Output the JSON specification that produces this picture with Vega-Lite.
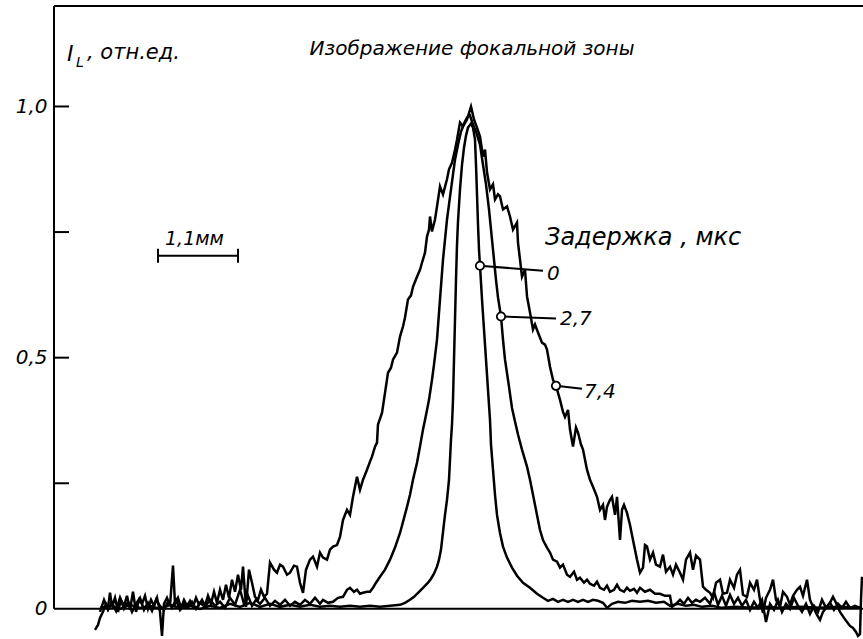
{
"$schema": "https://vega.github.io/schema/vega-lite/v6.json",
"width": 809, "height": 633,
"autosize": {"type": "none"},
"padding": {"left": 54, "top": 6, "right": 0, "bottom": 0},
"background": "white",
"config": {"view": {"stroke": null}, "font": "DejaVu Sans"},
"layer": [
{
"data": {"values": [
{"c":"7,4","x":41,"y":-0.042},{"c":"7,4","x":44,"y":-0.032},{"c":"7,4","x":46,"y":-0.018},{"c":"7,4","x":49,"y":-0.006},{"c":"7,4","x":52,"y":0.010},{"c":"7,4","x":54,"y":0.002},{"c":"7,4","x":56,"y":0.032},{"c":"7,4","x":58,"y":0.004},{"c":"7,4","x":61,"y":0.022},{"c":"7,4","x":64,"y":-0.006},{"c":"7,4","x":67,"y":0.018},{"c":"7,4","x":70,"y":0.006},{"c":"7,4","x":73,"y":0.026},{"c":"7,4","x":76,"y":-0.002},{"c":"7,4","x":79,"y":0.034},{"c":"7,4","x":82,"y":-0.006},{"c":"7,4","x":85,"y":0.018},{"c":"7,4","x":88,"y":0.010},{"c":"7,4","x":91,"y":0.026},{"c":"7,4","x":94,"y":0.000},{"c":"7,4","x":97,"y":0.018},{"c":"7,4","x":100,"y":0.006},{"c":"7,4","x":103,"y":0.022},{"c":"7,4","x":106,"y":-0.006},{"c":"7,4","x":108,"y":-0.054},{"c":"7,4","x":110,"y":0.010},{"c":"7,4","x":113,"y":0.022},{"c":"7,4","x":116,"y":0.006},{"c":"7,4","x":119,"y":0.086},{"c":"7,4","x":121,"y":0.010},{"c":"7,4","x":124,"y":0.022},{"c":"7,4","x":127,"y":0.002},{"c":"7,4","x":130,"y":0.018},{"c":"7,4","x":133,"y":0.006},{"c":"7,4","x":136,"y":0.016},{"c":"7,4","x":139,"y":0.004},{"c":"7,4","x":142,"y":0.022},{"c":"7,4","x":145,"y":0.008},{"c":"7,4","x":148,"y":0.018},{"c":"7,4","x":151,"y":0.006},{"c":"7,4","x":154,"y":0.026},{"c":"7,4","x":157,"y":0.010},{"c":"7,4","x":160,"y":0.034},{"c":"7,4","x":163,"y":0.012},{"c":"7,4","x":166,"y":0.038},{"c":"7,4","x":169,"y":0.018},{"c":"7,4","x":172,"y":0.048},{"c":"7,4","x":175,"y":0.022},{"c":"7,4","x":178,"y":0.058},{"c":"7,4","x":181,"y":0.034},{"c":"7,4","x":184,"y":0.068},{"c":"7,4","x":187,"y":0.038},{"c":"7,4","x":189,"y":0.084},{"c":"7,4","x":192,"y":0.004},{"c":"7,4","x":195,"y":0.078},{"c":"7,4","x":198,"y":0.052},{"c":"7,4","x":201,"y":0.024},{"c":"7,4","x":204,"y":0.018},{"c":"7,4","x":207,"y":0.038},{"c":"7,4","x":210,"y":0.024},{"c":"7,4","x":213,"y":0.030},{"c":"7,4","x":216,"y":0.092},{"c":"7,4","x":220,"y":0.078},{"c":"7,4","x":223,"y":0.072},{"c":"7,4","x":226,"y":0.088},{"c":"7,4","x":229,"y":0.084},{"c":"7,4","x":233,"y":0.068},{"c":"7,4","x":236,"y":0.072},{"c":"7,4","x":240,"y":0.086},{"c":"7,4","x":243,"y":0.084},{"c":"7,4","x":246,"y":0.052},{"c":"7,4","x":249,"y":0.032},{"c":"7,4","x":252,"y":0.078},{"c":"7,4","x":256,"y":0.098},{"c":"7,4","x":259,"y":0.104},{"c":"7,4","x":263,"y":0.084},{"c":"7,4","x":266,"y":0.112},{"c":"7,4","x":269,"y":0.102},{"c":"7,4","x":273,"y":0.098},{"c":"7,4","x":276,"y":0.118},{"c":"7,4","x":279,"y":0.124},{"c":"7,4","x":283,"y":0.127},{"c":"7,4","x":286,"y":0.143},{"c":"7,4","x":289,"y":0.177},{"c":"7,4","x":293,"y":0.197},{"c":"7,4","x":296,"y":0.187},{"c":"7,4","x":299,"y":0.223},{"c":"7,4","x":303,"y":0.263},{"c":"7,4","x":306,"y":0.237},{"c":"7,4","x":309,"y":0.257},{"c":"7,4","x":313,"y":0.277},{"c":"7,4","x":316,"y":0.293},{"c":"7,4","x":318,"y":0.303},{"c":"7,4","x":321,"y":0.323},{"c":"7,4","x":323,"y":0.331},{"c":"7,4","x":324,"y":0.367},{"c":"7,4","x":328,"y":0.390},{"c":"7,4","x":331,"y":0.430},{"c":"7,4","x":334,"y":0.470},{"c":"7,4","x":337,"y":0.480},{"c":"7,4","x":339,"y":0.496},{"c":"7,4","x":343,"y":0.510},{"c":"7,4","x":346,"y":0.542},{"c":"7,4","x":349,"y":0.562},{"c":"7,4","x":351,"y":0.580},{"c":"7,4","x":354,"y":0.616},{"c":"7,4","x":357,"y":0.624},{"c":"7,4","x":359,"y":0.641},{"c":"7,4","x":363,"y":0.661},{"c":"7,4","x":366,"y":0.675},{"c":"7,4","x":368,"y":0.689},{"c":"7,4","x":371,"y":0.709},{"c":"7,4","x":373,"y":0.741},{"c":"7,4","x":375,"y":0.755},{"c":"7,4","x":376,"y":0.781},{"c":"7,4","x":378,"y":0.751},{"c":"7,4","x":381,"y":0.775},{"c":"7,4","x":383,"y":0.801},{"c":"7,4","x":386,"y":0.841},{"c":"7,4","x":389,"y":0.825},{"c":"7,4","x":393,"y":0.855},{"c":"7,4","x":395,"y":0.875},{"c":"7,4","x":398,"y":0.888},{"c":"7,4","x":401,"y":0.914},{"c":"7,4","x":403,"y":0.934},{"c":"7,4","x":406,"y":0.968},{"c":"7,4","x":409,"y":0.960},{"c":"7,4","x":413,"y":0.974},{"c":"7,4","x":417,"y":1.000},{"c":"7,4","x":420,"y":0.974},{"c":"7,4","x":423,"y":0.958},{"c":"7,4","x":426,"y":0.940},{"c":"7,4","x":429,"y":0.900},{"c":"7,4","x":431,"y":0.914},{"c":"7,4","x":433,"y":0.869},{"c":"7,4","x":436,"y":0.835},{"c":"7,4","x":439,"y":0.845},{"c":"7,4","x":441,"y":0.815},{"c":"7,4","x":444,"y":0.825},{"c":"7,4","x":446,"y":0.821},{"c":"7,4","x":449,"y":0.795},{"c":"7,4","x":453,"y":0.801},{"c":"7,4","x":456,"y":0.781},{"c":"7,4","x":459,"y":0.755},{"c":"7,4","x":463,"y":0.769},{"c":"7,4","x":464,"y":0.729},{"c":"7,4","x":466,"y":0.695},{"c":"7,4","x":468,"y":0.661},{"c":"7,4","x":471,"y":0.675},{"c":"7,4","x":473,"y":0.622},{"c":"7,4","x":476,"y":0.590},{"c":"7,4","x":479,"y":0.556},{"c":"7,4","x":481,"y":0.566},{"c":"7,4","x":484,"y":0.550},{"c":"7,4","x":488,"y":0.530},{"c":"7,4","x":491,"y":0.526},{"c":"7,4","x":493,"y":0.516},{"c":"7,4","x":496,"y":0.482},{"c":"7,4","x":499,"y":0.456},{"c":"7,4","x":502,"y":0.444},{"c":"7,4","x":504,"y":0.430},{"c":"7,4","x":506,"y":0.416},{"c":"7,4","x":509,"y":0.392},{"c":"7,4","x":511,"y":0.382},{"c":"7,4","x":514,"y":0.396},{"c":"7,4","x":516,"y":0.357},{"c":"7,4","x":519,"y":0.323},{"c":"7,4","x":522,"y":0.361},{"c":"7,4","x":524,"y":0.351},{"c":"7,4","x":527,"y":0.327},{"c":"7,4","x":529,"y":0.317},{"c":"7,4","x":533,"y":0.277},{"c":"7,4","x":536,"y":0.257},{"c":"7,4","x":539,"y":0.243},{"c":"7,4","x":543,"y":0.223},{"c":"7,4","x":546,"y":0.197},{"c":"7,4","x":549,"y":0.207},{"c":"7,4","x":551,"y":0.177},{"c":"7,4","x":553,"y":0.203},{"c":"7,4","x":556,"y":0.217},{"c":"7,4","x":558,"y":0.223},{"c":"7,4","x":561,"y":0.187},{"c":"7,4","x":563,"y":0.223},{"c":"7,4","x":566,"y":0.137},{"c":"7,4","x":568,"y":0.197},{"c":"7,4","x":570,"y":0.207},{"c":"7,4","x":573,"y":0.191},{"c":"7,4","x":576,"y":0.167},{"c":"7,4","x":579,"y":0.137},{"c":"7,4","x":583,"y":0.098},{"c":"7,4","x":586,"y":0.072},{"c":"7,4","x":589,"y":0.082},{"c":"7,4","x":591,"y":0.127},{"c":"7,4","x":593,"y":0.124},{"c":"7,4","x":596,"y":0.098},{"c":"7,4","x":599,"y":0.112},{"c":"7,4","x":602,"y":0.088},{"c":"7,4","x":606,"y":0.084},{"c":"7,4","x":609,"y":0.108},{"c":"7,4","x":612,"y":0.074},{"c":"7,4","x":616,"y":0.084},{"c":"7,4","x":619,"y":0.068},{"c":"7,4","x":622,"y":0.088},{"c":"7,4","x":626,"y":0.072},{"c":"7,4","x":629,"y":0.058},{"c":"7,4","x":632,"y":0.098},{"c":"7,4","x":636,"y":0.112},{"c":"7,4","x":639,"y":0.078},{"c":"7,4","x":642,"y":0.106},{"c":"7,4","x":646,"y":0.098},{"c":"7,4","x":649,"y":0.044},{"c":"7,4","x":652,"y":0.038},{"c":"7,4","x":656,"y":0.032},{"c":"7,4","x":659,"y":0.022},{"c":"7,4","x":662,"y":0.052},{"c":"7,4","x":666,"y":0.058},{"c":"7,4","x":669,"y":0.030},{"c":"7,4","x":673,"y":0.032},{"c":"7,4","x":676,"y":0.058},{"c":"7,4","x":680,"y":0.042},{"c":"7,4","x":683,"y":0.068},{"c":"7,4","x":686,"y":0.078},{"c":"7,4","x":689,"y":0.028},{"c":"7,4","x":693,"y":0.024},{"c":"7,4","x":696,"y":0.052},{"c":"7,4","x":700,"y":0.038},{"c":"7,4","x":703,"y":0.058},{"c":"7,4","x":706,"y":0.018},{"c":"7,4","x":709,"y":-0.008},{"c":"7,4","x":712,"y":0.022},{"c":"7,4","x":716,"y":0.038},{"c":"7,4","x":719,"y":0.058},{"c":"7,4","x":722,"y":0.018},{"c":"7,4","x":726,"y":0.004},{"c":"7,4","x":729,"y":0.034},{"c":"7,4","x":733,"y":0.024},{"c":"7,4","x":736,"y":0.008},{"c":"7,4","x":739,"y":0.026},{"c":"7,4","x":743,"y":0.038},{"c":"7,4","x":746,"y":0.044},{"c":"7,4","x":749,"y":0.026},{"c":"7,4","x":753,"y":0.058},{"c":"7,4","x":756,"y":0.018},{"c":"7,4","x":759,"y":0.004},{"c":"7,4","x":763,"y":-0.012},{"c":"7,4","x":766,"y":-0.022},{"c":"7,4","x":769,"y":-0.006},{"c":"7,4","x":773,"y":0.004},{"c":"7,4","x":776,"y":0.012},{"c":"7,4","x":779,"y":0.024},{"c":"7,4","x":783,"y":0.008},{"c":"7,4","x":786,"y":-0.006},{"c":"7,4","x":790,"y":-0.018},{"c":"7,4","x":793,"y":-0.026},{"c":"7,4","x":796,"y":-0.034},{"c":"7,4","x":799,"y":-0.038},{"c":"7,4","x":802,"y":-0.046},{"c":"7,4","x":804,"y":-0.054},{"c":"7,4","x":806,"y":-0.050},{"c":"7,4","x":807,"y":0.018},{"c":"7,4","x":808,"y":0.064},
{"c":"2,7","x":46,"y":-0.006},{"c":"2,7","x":50,"y":0.018},{"c":"2,7","x":54,"y":-0.002},{"c":"2,7","x":58,"y":0.012},{"c":"2,7","x":62,"y":-0.004},{"c":"2,7","x":66,"y":0.022},{"c":"2,7","x":70,"y":0.000},{"c":"2,7","x":74,"y":0.014},{"c":"2,7","x":78,"y":-0.006},{"c":"2,7","x":82,"y":0.010},{"c":"2,7","x":86,"y":0.022},{"c":"2,7","x":90,"y":-0.002},{"c":"2,7","x":94,"y":0.012},{"c":"2,7","x":98,"y":-0.004},{"c":"2,7","x":102,"y":0.018},{"c":"2,7","x":106,"y":0.006},{"c":"2,7","x":110,"y":-0.002},{"c":"2,7","x":114,"y":0.014},{"c":"2,7","x":118,"y":0.002},{"c":"2,7","x":122,"y":0.018},{"c":"2,7","x":126,"y":-0.002},{"c":"2,7","x":130,"y":0.010},{"c":"2,7","x":134,"y":0.002},{"c":"2,7","x":138,"y":0.014},{"c":"2,7","x":142,"y":0.000},{"c":"2,7","x":146,"y":0.012},{"c":"2,7","x":151,"y":0.004},{"c":"2,7","x":156,"y":0.018},{"c":"2,7","x":161,"y":0.006},{"c":"2,7","x":166,"y":0.014},{"c":"2,7","x":171,"y":0.002},{"c":"2,7","x":176,"y":0.022},{"c":"2,7","x":181,"y":0.008},{"c":"2,7","x":186,"y":0.038},{"c":"2,7","x":190,"y":0.010},{"c":"2,7","x":194,"y":0.026},{"c":"2,7","x":198,"y":0.006},{"c":"2,7","x":202,"y":0.018},{"c":"2,7","x":206,"y":0.010},{"c":"2,7","x":211,"y":0.022},{"c":"2,7","x":216,"y":0.006},{"c":"2,7","x":221,"y":0.016},{"c":"2,7","x":226,"y":0.008},{"c":"2,7","x":231,"y":0.018},{"c":"2,7","x":236,"y":0.006},{"c":"2,7","x":241,"y":0.014},{"c":"2,7","x":246,"y":0.008},{"c":"2,7","x":251,"y":0.018},{"c":"2,7","x":256,"y":0.010},{"c":"2,7","x":261,"y":0.022},{"c":"2,7","x":266,"y":0.010},{"c":"2,7","x":269,"y":0.018},{"c":"2,7","x":274,"y":0.012},{"c":"2,7","x":279,"y":0.014},{"c":"2,7","x":284,"y":0.022},{"c":"2,7","x":289,"y":0.024},{"c":"2,7","x":293,"y":0.038},{"c":"2,7","x":296,"y":0.042},{"c":"2,7","x":300,"y":0.034},{"c":"2,7","x":303,"y":0.038},{"c":"2,7","x":306,"y":0.030},{"c":"2,7","x":309,"y":0.032},{"c":"2,7","x":313,"y":0.034},{"c":"2,7","x":316,"y":0.034},{"c":"2,7","x":319,"y":0.042},{"c":"2,7","x":322,"y":0.052},{"c":"2,7","x":326,"y":0.064},{"c":"2,7","x":331,"y":0.078},{"c":"2,7","x":336,"y":0.098},{"c":"2,7","x":341,"y":0.122},{"c":"2,7","x":346,"y":0.151},{"c":"2,7","x":349,"y":0.173},{"c":"2,7","x":353,"y":0.203},{"c":"2,7","x":356,"y":0.227},{"c":"2,7","x":359,"y":0.257},{"c":"2,7","x":363,"y":0.291},{"c":"2,7","x":366,"y":0.323},{"c":"2,7","x":369,"y":0.357},{"c":"2,7","x":371,"y":0.376},{"c":"2,7","x":373,"y":0.396},{"c":"2,7","x":375,"y":0.416},{"c":"2,7","x":378,"y":0.456},{"c":"2,7","x":380,"y":0.486},{"c":"2,7","x":383,"y":0.536},{"c":"2,7","x":386,"y":0.616},{"c":"2,7","x":389,"y":0.695},{"c":"2,7","x":391,"y":0.735},{"c":"2,7","x":393,"y":0.775},{"c":"2,7","x":395,"y":0.805},{"c":"2,7","x":397,"y":0.835},{"c":"2,7","x":399,"y":0.865},{"c":"2,7","x":401,"y":0.894},{"c":"2,7","x":404,"y":0.924},{"c":"2,7","x":407,"y":0.950},{"c":"2,7","x":410,"y":0.966},{"c":"2,7","x":413,"y":0.978},{"c":"2,7","x":416,"y":0.982},{"c":"2,7","x":419,"y":0.964},{"c":"2,7","x":422,"y":0.950},{"c":"2,7","x":426,"y":0.924},{"c":"2,7","x":429,"y":0.884},{"c":"2,7","x":432,"y":0.845},{"c":"2,7","x":435,"y":0.795},{"c":"2,7","x":438,"y":0.735},{"c":"2,7","x":440,"y":0.695},{"c":"2,7","x":442,"y":0.655},{"c":"2,7","x":444,"y":0.620},{"c":"2,7","x":447,"y":0.582},{"c":"2,7","x":449,"y":0.536},{"c":"2,7","x":451,"y":0.496},{"c":"2,7","x":454,"y":0.456},{"c":"2,7","x":458,"y":0.400},{"c":"2,7","x":461,"y":0.373},{"c":"2,7","x":464,"y":0.347},{"c":"2,7","x":468,"y":0.317},{"c":"2,7","x":473,"y":0.283},{"c":"2,7","x":476,"y":0.257},{"c":"2,7","x":479,"y":0.227},{"c":"2,7","x":483,"y":0.187},{"c":"2,7","x":486,"y":0.157},{"c":"2,7","x":489,"y":0.137},{"c":"2,7","x":493,"y":0.122},{"c":"2,7","x":496,"y":0.112},{"c":"2,7","x":499,"y":0.098},{"c":"2,7","x":503,"y":0.094},{"c":"2,7","x":506,"y":0.082},{"c":"2,7","x":509,"y":0.088},{"c":"2,7","x":513,"y":0.068},{"c":"2,7","x":516,"y":0.064},{"c":"2,7","x":520,"y":0.074},{"c":"2,7","x":523,"y":0.058},{"c":"2,7","x":526,"y":0.062},{"c":"2,7","x":530,"y":0.052},{"c":"2,7","x":533,"y":0.058},{"c":"2,7","x":536,"y":0.050},{"c":"2,7","x":540,"y":0.046},{"c":"2,7","x":543,"y":0.054},{"c":"2,7","x":546,"y":0.042},{"c":"2,7","x":550,"y":0.038},{"c":"2,7","x":553,"y":0.046},{"c":"2,7","x":556,"y":0.034},{"c":"2,7","x":560,"y":0.038},{"c":"2,7","x":563,"y":0.048},{"c":"2,7","x":566,"y":0.038},{"c":"2,7","x":570,"y":0.034},{"c":"2,7","x":573,"y":0.042},{"c":"2,7","x":576,"y":0.036},{"c":"2,7","x":580,"y":0.040},{"c":"2,7","x":583,"y":0.032},{"c":"2,7","x":586,"y":0.042},{"c":"2,7","x":591,"y":0.034},{"c":"2,7","x":596,"y":0.038},{"c":"2,7","x":601,"y":0.030},{"c":"2,7","x":606,"y":0.030},{"c":"2,7","x":611,"y":0.026},{"c":"2,7","x":616,"y":0.026},{"c":"2,7","x":618,"y":0.004},{"c":"2,7","x":622,"y":0.010},{"c":"2,7","x":626,"y":0.018},{"c":"2,7","x":630,"y":0.010},{"c":"2,7","x":634,"y":0.022},{"c":"2,7","x":638,"y":0.012},{"c":"2,7","x":642,"y":0.018},{"c":"2,7","x":646,"y":0.014},{"c":"2,7","x":651,"y":0.022},{"c":"2,7","x":656,"y":0.010},{"c":"2,7","x":660,"y":0.034},{"c":"2,7","x":664,"y":0.008},{"c":"2,7","x":668,"y":0.026},{"c":"2,7","x":672,"y":0.006},{"c":"2,7","x":676,"y":0.028},{"c":"2,7","x":680,"y":0.010},{"c":"2,7","x":684,"y":0.022},{"c":"2,7","x":688,"y":0.006},{"c":"2,7","x":692,"y":0.018},{"c":"2,7","x":696,"y":-0.002},{"c":"2,7","x":700,"y":0.014},{"c":"2,7","x":704,"y":0.002},{"c":"2,7","x":708,"y":0.018},{"c":"2,7","x":712,"y":-0.026},{"c":"2,7","x":716,"y":0.010},{"c":"2,7","x":720,"y":-0.002},{"c":"2,7","x":724,"y":0.018},{"c":"2,7","x":728,"y":-0.006},{"c":"2,7","x":732,"y":0.010},{"c":"2,7","x":736,"y":0.000},{"c":"2,7","x":740,"y":0.022},{"c":"2,7","x":744,"y":0.006},{"c":"2,7","x":748,"y":-0.006},{"c":"2,7","x":752,"y":0.010},{"c":"2,7","x":756,"y":-0.010},{"c":"2,7","x":760,"y":0.006},{"c":"2,7","x":764,"y":-0.006},{"c":"2,7","x":768,"y":0.018},{"c":"2,7","x":772,"y":0.002},{"c":"2,7","x":776,"y":0.012},{"c":"2,7","x":780,"y":-0.002},{"c":"2,7","x":784,"y":0.010},{"c":"2,7","x":788,"y":0.002},{"c":"2,7","x":792,"y":0.014},{"c":"2,7","x":796,"y":0.002},{"c":"2,7","x":801,"y":0.006},{"c":"2,7","x":806,"y":0.002},
{"c":"0","x":46,"y":0.002},{"c":"0","x":56,"y":0.006},{"c":"0","x":66,"y":0.000},{"c":"0","x":76,"y":0.008},{"c":"0","x":86,"y":0.002},{"c":"0","x":96,"y":0.006},{"c":"0","x":106,"y":0.000},{"c":"0","x":116,"y":0.008},{"c":"0","x":126,"y":0.002},{"c":"0","x":136,"y":0.006},{"c":"0","x":146,"y":0.000},{"c":"0","x":156,"y":0.006},{"c":"0","x":166,"y":0.002},{"c":"0","x":176,"y":0.010},{"c":"0","x":186,"y":0.004},{"c":"0","x":196,"y":0.012},{"c":"0","x":206,"y":0.004},{"c":"0","x":216,"y":0.010},{"c":"0","x":226,"y":0.004},{"c":"0","x":236,"y":0.008},{"c":"0","x":246,"y":0.004},{"c":"0","x":256,"y":0.008},{"c":"0","x":266,"y":0.004},{"c":"0","x":276,"y":0.006},{"c":"0","x":286,"y":0.004},{"c":"0","x":296,"y":0.006},{"c":"0","x":306,"y":0.004},{"c":"0","x":316,"y":0.006},{"c":"0","x":326,"y":0.004},{"c":"0","x":336,"y":0.006},{"c":"0","x":346,"y":0.008},{"c":"0","x":351,"y":0.012},{"c":"0","x":356,"y":0.018},{"c":"0","x":360,"y":0.024},{"c":"0","x":364,"y":0.032},{"c":"0","x":369,"y":0.042},{"c":"0","x":374,"y":0.052},{"c":"0","x":377,"y":0.060},{"c":"0","x":380,"y":0.070},{"c":"0","x":383,"y":0.084},{"c":"0","x":385,"y":0.098},{"c":"0","x":387,"y":0.118},{"c":"0","x":389,"y":0.153},{"c":"0","x":391,"y":0.187},{"c":"0","x":393,"y":0.217},{"c":"0","x":395,"y":0.257},{"c":"0","x":396,"y":0.297},{"c":"0","x":397,"y":0.337},{"c":"0","x":398,"y":0.367},{"c":"0","x":399,"y":0.416},{"c":"0","x":400,"y":0.496},{"c":"0","x":401,"y":0.576},{"c":"0","x":402,"y":0.655},{"c":"0","x":403,"y":0.725},{"c":"0","x":404,"y":0.771},{"c":"0","x":406,"y":0.835},{"c":"0","x":408,"y":0.884},{"c":"0","x":410,"y":0.918},{"c":"0","x":412,"y":0.942},{"c":"0","x":414,"y":0.958},{"c":"0","x":417,"y":0.966},{"c":"0","x":419,"y":0.958},{"c":"0","x":421,"y":0.934},{"c":"0","x":422,"y":0.884},{"c":"0","x":423,"y":0.825},{"c":"0","x":424,"y":0.765},{"c":"0","x":425,"y":0.715},{"c":"0","x":426,"y":0.683},{"c":"0","x":428,"y":0.616},{"c":"0","x":430,"y":0.556},{"c":"0","x":432,"y":0.496},{"c":"0","x":434,"y":0.436},{"c":"0","x":436,"y":0.376},{"c":"0","x":437,"y":0.327},{"c":"0","x":439,"y":0.277},{"c":"0","x":441,"y":0.227},{"c":"0","x":443,"y":0.187},{"c":"0","x":446,"y":0.151},{"c":"0","x":449,"y":0.124},{"c":"0","x":453,"y":0.102},{"c":"0","x":458,"y":0.082},{"c":"0","x":463,"y":0.066},{"c":"0","x":469,"y":0.052},{"c":"0","x":476,"y":0.042},{"c":"0","x":483,"y":0.030},{"c":"0","x":489,"y":0.022},{"c":"0","x":494,"y":0.016},{"c":"0","x":499,"y":0.020},{"c":"0","x":504,"y":0.014},{"c":"0","x":509,"y":0.018},{"c":"0","x":514,"y":0.014},{"c":"0","x":519,"y":0.018},{"c":"0","x":524,"y":0.014},{"c":"0","x":529,"y":0.018},{"c":"0","x":534,"y":0.014},{"c":"0","x":539,"y":0.018},{"c":"0","x":544,"y":0.016},{"c":"0","x":549,"y":0.012},{"c":"0","x":553,"y":0.002},{"c":"0","x":558,"y":0.010},{"c":"0","x":564,"y":0.014},{"c":"0","x":571,"y":0.012},{"c":"0","x":578,"y":0.016},{"c":"0","x":586,"y":0.014},{"c":"0","x":594,"y":0.016},{"c":"0","x":602,"y":0.012},{"c":"0","x":610,"y":0.014},{"c":"0","x":616,"y":0.006},{"c":"0","x":624,"y":0.010},{"c":"0","x":632,"y":0.006},{"c":"0","x":640,"y":0.008},{"c":"0","x":648,"y":0.004},{"c":"0","x":658,"y":0.006},{"c":"0","x":668,"y":0.002},{"c":"0","x":681,"y":0.004},{"c":"0","x":696,"y":0.002},{"c":"0","x":711,"y":0.004},{"c":"0","x":726,"y":0.002},{"c":"0","x":746,"y":0.004},{"c":"0","x":766,"y":0.002},{"c":"0","x":786,"y":0.004},{"c":"0","x":806,"y":0.002}
]},
"mark": {"type": "line", "color": "black", "strokeWidth": 2.5},
"encoding": {
"x": {"field": "x", "type": "quantitative", "scale": {"domain": [0, 809], "nice": false, "zero": false}, "axis": null},
"y": {"field": "y", "type": "quantitative", "scale": {"domain": [-0.06, 1.2], "nice": false, "zero": false},
"axis": {"values": [0, 0.5, 1], "domain": false, "grid": false, "title": null, "ticks": false,
"labelExpr": "datum.value == 1 ? '1,0' : datum.value == 0.5 ? '0,5' : '0'",
"labelFont": "DejaVu Sans", "labelFontStyle": "italic", "labelFontSize": 20, "labelColor": "black", "labelPadding": 7}},
"detail": {"field": "c", "type": "nominal"}
}
},
{
"data": {"values": [
{"x":0,"y":1.2,"x2":809,"y2":1.2},
{"x":0,"y":0,"x2":809,"y2":0},
{"x":0,"y":0,"x2":0,"y2":1.2},
{"x":0,"y":0.25,"x2":15,"y2":0.25},
{"x":0,"y":0.5,"x2":15,"y2":0.5},
{"x":0,"y":0.75,"x2":15,"y2":0.75},
{"x":0,"y":1,"x2":15,"y2":1},
{"x":104,"y":0.703,"x2":184,"y2":0.703},
{"x":104,"y":0.689,"x2":104,"y2":0.717},
{"x":184,"y":0.689,"x2":184,"y2":0.717},
{"x":426,"y":0.683,"x2":489,"y2":0.673},
{"x":447,"y":0.582,"x2":502,"y2":0.578},
{"x":502,"y":0.444,"x2":528,"y2":0.438}
]},
"mark": {"type": "rule", "color": "black", "strokeWidth": 2},
"encoding": {"x": {"field": "x", "type": "quantitative"}, "y": {"field": "y", "type": "quantitative"}, "x2": {"field": "x2"}, "y2": {"field": "y2"}}
},
{
"data": {"values": [
{"x":426,"y":0.683},
{"x":447,"y":0.582},
{"x":502,"y":0.444}
]},
"mark": {"type": "point", "shape": "circle", "filled": true, "fill": "white", "stroke": "black", "strokeWidth": 1.8, "size": 70, "opacity": 1},
"encoding": {"x": {"field": "x", "type": "quantitative"}, "y": {"field": "y", "type": "quantitative"}}
},
{
"data": {"values": [
{"t":"0","x":493,"y":0.667},
{"t":"2,7","x":506,"y":0.576},
{"t":"7,4","x":530,"y":0.432}
]},
"mark": {"type": "text", "align": "left", "baseline": "middle", "fontStyle": "italic", "fontSize": 20, "color": "black"},
"encoding": {"x": {"field": "x", "type": "quantitative"}, "y": {"field": "y", "type": "quantitative"}, "text": {"field": "t", "type": "nominal"}}
},
{
"data": {"values": [{"t":"Задержка , мкс","x":491,"y":0.725}]},
"mark": {"type": "text", "align": "left", "baseline": "alphabetic", "fontStyle": "italic", "fontSize": 24, "color": "black"},
"encoding": {"x": {"field": "x", "type": "quantitative"}, "y": {"field": "y", "type": "quantitative"}, "text": {"field": "t", "type": "nominal"}}
},
{
"data": {"values": [{"t":"1,1мм","x":111,"y":0.725}]},
"mark": {"type": "text", "align": "left", "baseline": "alphabetic", "fontStyle": "italic", "fontSize": 19, "color": "black"},
"encoding": {"x": {"field": "x", "type": "quantitative"}, "y": {"field": "y", "type": "quantitative"}, "text": {"field": "t", "type": "nominal"}}
},
{
"data": {"values": [{"t":"I","x":13,"y":1.09}]},
"mark": {"type": "text", "align": "left", "baseline": "alphabetic", "fontStyle": "italic", "fontSize": 22, "color": "black"},
"encoding": {"x": {"field": "x", "type": "quantitative"}, "y": {"field": "y", "type": "quantitative"}, "text": {"field": "t", "type": "nominal"}}
},
{
"data": {"values": [{"t":"L","x":22,"y":1.078}]},
"mark": {"type": "text", "align": "left", "baseline": "alphabetic", "fontStyle": "italic", "fontSize": 14, "color": "black"},
"encoding": {"x": {"field": "x", "type": "quantitative"}, "y": {"field": "y", "type": "quantitative"}, "text": {"field": "t", "type": "nominal"}}
},
{
"data": {"values": [{"t":", отн.ед.","x":33,"y":1.094}]},
"mark": {"type": "text", "align": "left", "baseline": "alphabetic", "fontStyle": "italic", "fontSize": 21, "color": "black"},
"encoding": {"x": {"field": "x", "type": "quantitative"}, "y": {"field": "y", "type": "quantitative"}, "text": {"field": "t", "type": "nominal"}}
},
{
"data": {"values": [{"t":"Изображение фокальной зоны","x":418,"y":1.103}]},
"mark": {"type": "text", "align": "center", "baseline": "alphabetic", "fontStyle": "italic", "fontSize": 20, "color": "black"},
"encoding": {"x": {"field": "x", "type": "quantitative"}, "y": {"field": "y", "type": "quantitative"}, "text": {"field": "t", "type": "nominal"}}
}
]
}
